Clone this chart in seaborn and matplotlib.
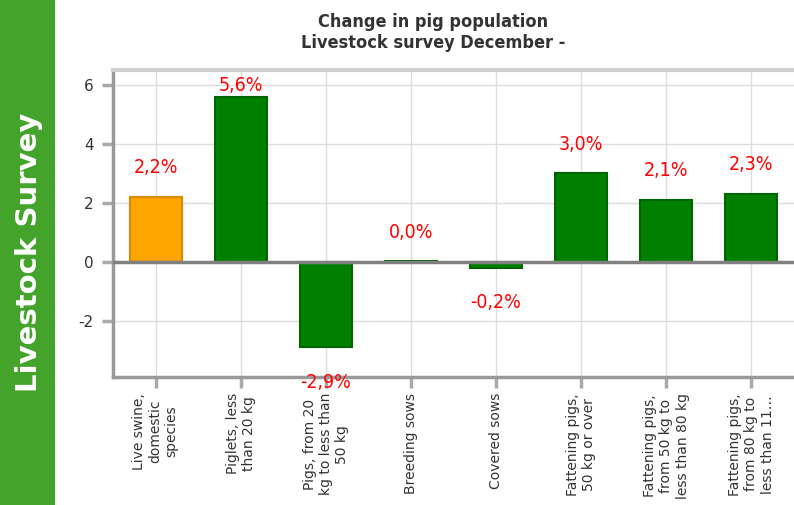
import matplotlib
matplotlib.use("Agg")
import matplotlib.pyplot as plt
import seaborn as sns
import pandas as pd

categories = ["Live swine,\ndomestic\nspecies", "Piglets, less\nthan 20 kg",
              "Pigs, from 20\nkg to less than\n50 kg", "Breeding sows", "Covered sows",
              "Fattening pigs,\n50 kg or over", "Fattening pigs,\nfrom 50 kg to\nless than 80 kg",
              "Fattening pigs,\nfrom 80 kg to\nless than 11\u2026"]
values = [2.2, 5.6, -2.9, 0.02, -0.2, 3.0, 2.1, 2.3]
labels = ["2,2%", "5,6%", "-2,9%", "0,0%", "-0,2%", "3,0%", "2,1%", "2,3%"]
groups = ["total", "part", "part", "part", "part", "part", "part", "part"]
yticks = [-2, 0, 2, 4, 6]

sns.set_theme(style="white")
plt.rcParams['font.family'] = ['DejaVu Sans']

df = pd.DataFrame({"cat": categories, "val": values, "grp": groups})

fig = plt.figure(figsize=(7.94, 5.05), dpi=100)
ax = fig.add_axes([0.1423, 0.2535, 0.8577, 0.6075])

palette = {"total": "#FFA500", "part": "#008000"}
sns.barplot(data=df, x="cat", y="val", hue="grp", palette=palette, dodge=False,
            width=0.61, legend=False, ax=ax, saturation=1, zorder=3)
edge = {"total": "#D98C00", "part": "#006400"}
for patch, g in zip(ax.patches, groups):
    patch.set_edgecolor(edge[g])
    patch.set_linewidth(1.5)

ax.set_xlim(-0.5, 7.5)
ax.set_ylim(-3.9, 6.5)
ax.set_yticks(yticks)
ax.set_yticklabels([str(t) for t in yticks])
ax.set_xlabel("")
ax.set_ylabel("")

ax.grid(True, axis="both", color="#dddddd", linewidth=1, zorder=0)
ax.set_axisbelow(True)
ax.axhline(0, color="#808080", linewidth=2.5, zorder=4)

for s in ["left", "bottom"]:
    ax.spines[s].set_color("#999999")
    ax.spines[s].set_linewidth(2.5)
ax.spines["top"].set_color("#d0d0d0")
ax.spines["top"].set_linewidth(3)
ax.spines["right"].set_visible(False)

ax.tick_params(axis="both", which="both", length=8, width=2.5, color="#aaaaaa",
               labelsize=10, labelcolor="#333333", bottom=True, left=True)
ax.tick_params(axis="y", pad=6, labelsize=11)
for t in ax.get_xticklabels():
    t.set_rotation(90)
    t.set_ha("center")
    t.set_va("top")
    t.set_multialignment("center")
    t.set_fontsize(10)

for i, (v, lab) in enumerate(zip(values, labels)):
    if v >= 0:
        y = min(v, 5.0)
        ax.annotate(lab, (i, y), xytext=(0, 21), textcoords="offset points",
                    ha="center", va="center", color="#ff0000", fontsize=14,
                    fontstretch="condensed",
                    annotation_clip=False, zorder=6)
    else:
        ax.annotate(lab, (i, v), xytext=(0, -25), textcoords="offset points",
                    ha="center", va="center", color="#ff0000", fontsize=14,
                    fontstretch="condensed",
                    annotation_clip=False, zorder=6)

fig.text(0.545, 0.957, "Change in pig population", ha="center", va="center",
         fontsize=13, fontweight="bold", fontstretch="condensed", color="#333333")
fig.text(0.545, 0.914, "Livestock survey December -", ha="center", va="center",
         fontsize=13, fontweight="bold", fontstretch="condensed", color="#333333")

band = fig.add_axes([0, 0, 55 / 794, 1])
band.set_facecolor("#43A32B")
band.set_xticks([]); band.set_yticks([])
for s in band.spines.values():
    s.set_visible(False)
band.text(0.52, 0.5, "Livestock Survey", rotation=90, ha="center", va="center",
          color="white", fontsize=21, fontweight="bold", transform=band.transAxes)

fig.savefig("out.png", dpi=100)
